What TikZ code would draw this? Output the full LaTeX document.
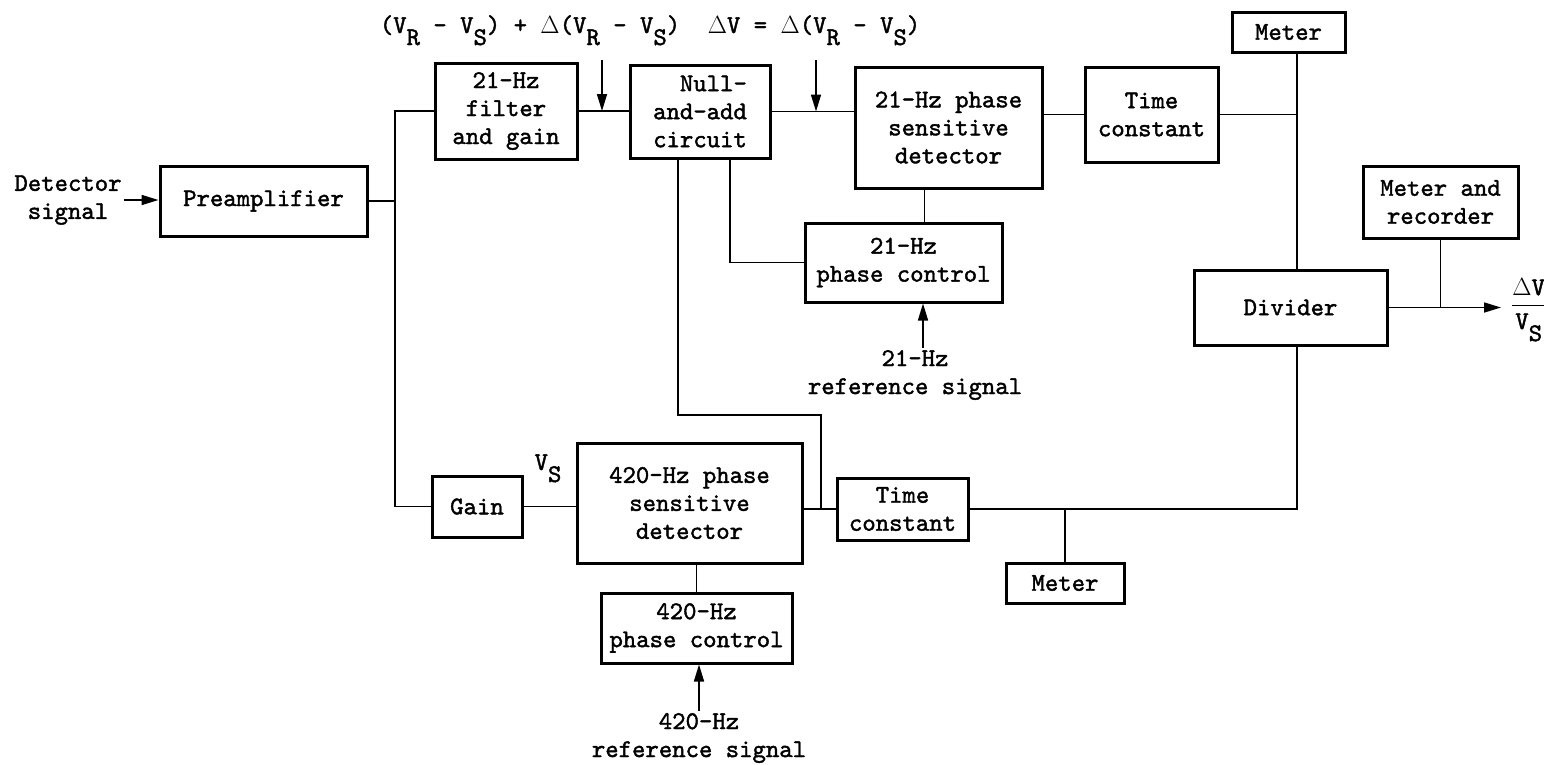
\documentclass[tikz,border=0pt]{standalone}
\usepackage{amsmath}
\usepackage{fontspec}
\newfontfamily\mainff{lmmono10-regular.otf}[FakeBold=1.6]
\usetikzlibrary{arrows.meta,calc}
\newcommand{\mainf}{\fontsize{25.5}{28}\selectfont\mainff}
\newcommand{\lsub}[1]{\raisebox{-12pt}{#1}}
\begin{document}
\begin{tikzpicture}[x=1pt,y=-1pt,
  box/.style={draw,line width=3pt,align=center,inner sep=0pt,font=\mainf},
  wire/.style={line width=1.6pt},
  arr/.style={wire,-{Triangle[length=17pt,width=10pt]}},
  lbl/.style={align=center,inner sep=2pt,font=\mainf}]
\useasboundingbox (0,0) rectangle (1544,764);

% boxes
\node[box,minimum width=207pt,minimum height=70pt] (pre) at (263.5,201) {Preamplifier};
\node[box,minimum width=142pt,minimum height=96pt] (filt) at (506,111) {21-Hz\\filter\\and gain};
\node[box,minimum width=140pt,minimum height=93pt,align=right] (null) at (700,111.5) {Null-\\and-add\\circuit};
\node[box,minimum width=187pt,minimum height=121pt] (psd21) at (948.5,127.5) {21-Hz phase\\sensitive\\detector};
\node[box,minimum width=133pt,minimum height=95pt] (tc1) at (1151.5,114.5) {Time\\constant};
\node[box,minimum width=113pt,minimum height=40pt] (meter1) at (1288.5,32) {Meter};
\node[box,minimum width=155pt,minimum height=72pt] (mr) at (1440.5,202) {Meter and\\recorder};
\node[box,minimum width=193pt,minimum height=75pt] (div) at (1290.5,307.5) {Divider};
\node[box,minimum width=197pt,minimum height=79pt] (pc21) at (903.5,262.5) {21-Hz\\phase control};
\node[box,minimum width=90pt,minimum height=61pt] (gain) at (477,506.5) {Gain};
\node[box,minimum width=225pt,minimum height=120pt] (psd420) at (689.5,503) {420-Hz phase\\sensitive\\detector};
\node[box,minimum width=131pt,minimum height=62pt] (tc2) at (902.5,509) {Time\\constant};
\node[box,minimum width=118pt,minimum height=40pt] (meter2) at (1065,583) {Meter};
\node[box,minimum width=191pt,minimum height=70pt] (pc420) at (696.5,628) {420-Hz\\phase control};

% labels
\node[lbl] (det) at (68,200) {Detector\\signal};
\node[lbl,anchor=base] (lab1) at (530,33) {(V\lsub{R} - V\lsub{S}) + $\Delta$(V\lsub{R} - V\lsub{S})};
\node[lbl,anchor=base] (lab2) at (814,33) {$\Delta$V = $\Delta$(V\lsub{R} - V\lsub{S})};
\node[lbl,anchor=base] (vs) at (548,470) {V\lsub{S}};
\node[lbl] (ref21) at (915,375) {21-Hz\\reference signal};
\node[lbl] (ref420) at (699,738) {420-Hz\\reference signal};
\node[lbl,anchor=base west,inner sep=0pt] (out) at (1511,312) {$\dfrac{\text{$\Delta$V}}{\text{V\lsub{S}}}$};

% helper coordinates
\coordinate (bus) at (395,0);
\coordinate (vbus) at (1297,0);
\coordinate (a1) at (602,60);
\coordinate (a2) at (816,60);
\coordinate (jn) at (821,415);
\coordinate (tip) at (1501,0);

% connectors
\draw[arr] (det.east) -- (det.east -| pre.west);
\draw[wire] (pre.east) -- (pre.east -| bus);
\draw[wire] (filt.west) -| (bus |- gain.west) -- (gain.west);
\draw[wire] (filt.east) -- (filt.east -| null.west);
\draw[arr] (a1) -- (a1 |- filt.east);
\draw[wire] (null.east) -- (null.east -| psd21.west);
\draw[arr] (a2) -- (a2 |- null.east);
\draw[wire] (psd21.east |- tc1.west) -- (tc1.west);
\draw[wire] (tc1.east) -- (tc1.east -| vbus);
\draw[wire] (meter1.south -| vbus) -- (div.north -| vbus);
\draw[arr] (div.east) -- (div.east -| tip);
\draw[wire] (mr.south) -- (mr.south |- div.east);
\draw[wire] (div.south -| vbus) |- (tc2.east);
\draw[wire] (meter2.north) -- (meter2.north |- tc2.east);
\draw[wire] ([xshift=21pt]pc21.north) -- ([xshift=21pt]pc21.north |- psd21.south);
\draw[arr] ([xshift=8pt]ref21.north) -- ([xshift=8pt]ref21.north |- pc21.south);
\draw[wire] ([xshift=30pt]null.south) |- (pc21.west);
\draw[wire] ([xshift=-22pt]null.south) |- (jn) -- (jn |- tc2.west);
\draw[wire] (psd420.east |- tc2.west) -- (tc2.west);
\draw[wire] (gain.east) -- (gain.east -| psd420.west);
\draw[wire] (pc420.north) -- (pc420.north |- psd420.south);
\draw[arr] (ref420.north) -- (ref420.north |- pc420.south);
\end{tikzpicture}
\end{document}
